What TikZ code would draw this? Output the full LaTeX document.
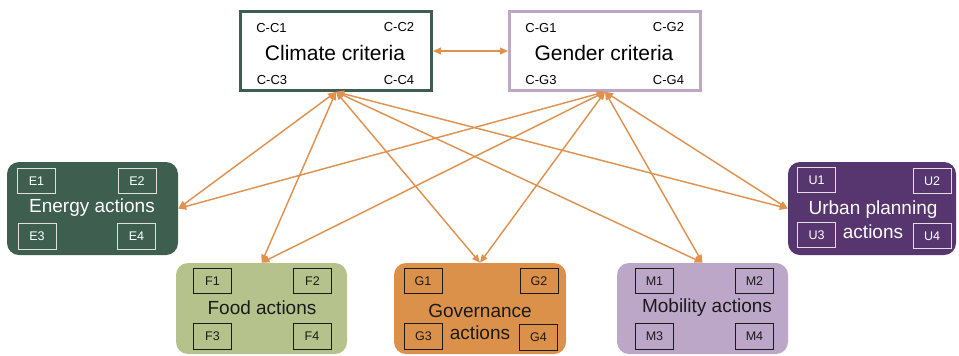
\documentclass[tikz,border=0pt]{standalone}
\usepackage{fontspec}
\setmainfont{Liberation Sans}
\usetikzlibrary{arrows.meta}
\definecolor{cgreen}{HTML}{3E5F50}
\definecolor{cpurple}{HTML}{573670}
\definecolor{cfood}{HTML}{B6C28B}
\definecolor{cgov}{HTML}{DC914B}
\definecolor{cmob}{HTML}{BDA7C9}
\definecolor{carrow}{HTML}{DF9250}
\definecolor{cdark}{HTML}{1A1A1A}
\tikzset{
  critbox/.style={draw, line width=2.25pt, fill=white, minimum width=143pt, minimum height=59pt, inner sep=0pt},
  actbox/.style={rounded corners=9pt, minimum height=69.75pt, minimum width=128.25pt, inner sep=0pt},
  crittitle/.style={font=\fontsize{15.75}{18}\selectfont, text=black, inner sep=0pt},
  critsmall/.style={font=\fontsize{9.75}{11}\selectfont, text=black, inner sep=0pt},
  acttitle/.style={font=\fontsize{14.25}{16}\selectfont, inner sep=0pt},
  tag/.style={draw, line width=0.6pt, minimum width=28.5pt, minimum height=19pt, inner sep=0pt, font=\fontsize{9.4}{11}\selectfont},
  tagw/.style={tag, draw=white!88!black, text=white},
  tagd/.style={tag, draw=cdark, text=cdark},
  link/.style={draw=carrow, line width=1.1pt, {Triangle[length=6pt,width=5pt]}-{Triangle[length=6pt,width=5pt]}}
}
\begin{document}
\begin{tikzpicture}[x=0.75pt,y=-0.75pt]
\useasboundingbox (0,0) rectangle (959,355);
% criteria boxes
\node[critbox, draw=cgreen] (climate) at (336,51) {};
\node[critbox, draw=cmob] (gender) at (605,51) {};
\node[crittitle] (climt) at (335,53) {Climate criteria};
\node[crittitle] (gendt) at (604,53) {Gender criteria};
\node[critsmall] (cc1) at (271.5,28) {C-C1};
\node[critsmall] (cc2) at (399,27) {C-C2};
\node[critsmall] (cc3) at (272,80) {C-C3};
\node[critsmall] (cc4) at (399,80) {C-C4};
\node[critsmall] (cg1) at (541,28) {C-G1};
\node[critsmall] (cg2) at (668.5,27) {C-G2};
\node[critsmall] (cg3) at (541,80) {C-G3};
\node[critsmall] (cg4) at (668.5,80) {C-G4};
% action boxes
\node[actbox, fill=cgreen] (energy) at (92.5,208.5) {};
\node[actbox, fill=cpurple, minimum width=126pt] (urban) at (872,208.5) {};
\node[actbox, fill=cfood, minimum height=68.25pt] (food) at (261.5,308.5) {};
\node[actbox, fill=cgov, minimum height=68.25pt, minimum width=129pt] (gov) at (480,308.5) {};
\node[actbox, fill=cmob, minimum height=68.25pt] (mob) at (702.5,308.5) {};
% titles
\node[acttitle, text=white] (energyt) at (92,208) {Energy actions};
\node[acttitle, text=white] (urbant1) at (873,210) {Urban planning};
\node[acttitle, text=white] (urbant2) at (873,232) {actions};
\node[acttitle, text=cdark] (foodt) at (262,308) {Food actions};
\node[acttitle, text=cdark] (govt1) at (480,311) {Governance};
\node[acttitle, text=cdark] (govt2) at (480,333) {actions};
\node[acttitle, text=cdark] (mobt) at (707,308) {Mobility actions};
% tags
\node[tagw] (e1) at (36.5,181) {E1};
\node[tagw] (e2) at (137,181) {E2};
\node[tagw] (e3) at (37,236.5) {E3};
\node[tagw] (e4) at (136.5,236.5) {E4};
\node[tagw] (u1) at (816.5,180) {U1};
\node[tagw] (u2) at (932,181) {U2};
\node[tagw] (u3) at (816.5,235) {U3};
\node[tagw] (u4) at (932,236) {U4};
\node[tagd] (f1) at (212.5,281) {F1};
\node[tagd] (f2) at (312.5,281) {F2};
\node[tagd] (f3) at (212.5,336.5) {F3};
\node[tagd] (f4) at (312,336.5) {F4};
\node[tagd] (g1) at (423,281) {G1};
\node[tagd] (g2) at (539,281) {G2};
\node[tagd] (g3) at (423.5,336.5) {G3};
\node[tagd] (g4) at (538.5,337.5) {G4};
\node[tagd] (m1) at (654.5,281) {M1};
\node[tagd] (m2) at (754.5,281) {M2};
\node[tagd] (m3) at (654.5,336.5) {M3};
\node[tagd] (m4) at (754.5,336.5) {M4};
% connectors
\draw[link] (climate.east) -- (gender.west);
\foreach \t/\a in {energy/east, food/north, gov/north, mob/north, urban/west}{
  \draw[link] (climate.south) -- (\t.\a);
  \draw[link] (gender.south) -- (\t.\a);
}
\end{tikzpicture}
\end{document}
